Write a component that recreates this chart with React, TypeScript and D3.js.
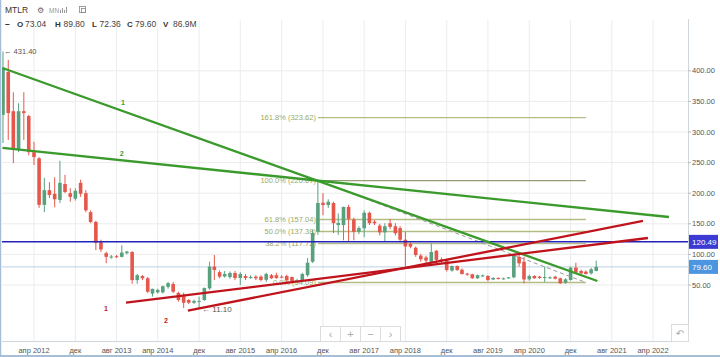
import React from "react";
import * as d3 from "d3";

// Monthly candles, Oct 2011 .. May 2021
const firstMonth = { year: 2011, month: 9 };
const opens = [
  328, 398, 334, 271, 334, 326, 267, 257, 181, 205,
  199, 189, 215, 200, 191, 217, 200, 169, 153, 120,
  102, 95.5, 97, 96, 102, 104, 58, 64.7, 61, 36,
  38, 38, 47, 51.6, 37, 32, 25.5, 21, 22.7, 25.5,
  44.5, 80, 71, 64, 63, 69.6, 61.4, 64.7, 62.5, 63.6,
  63.6, 58.5, 66, 66, 63.6, 64.7, 63, 55.4, 56, 66,
  88, 137, 184.5, 180.7, 184, 148, 148, 177.5, 157, 137,
  142.6, 168, 153.5, 147, 136, 151, 146, 143, 124, 117,
  111, 98, 95, 88, 106, 92, 92, 73.5, 81, 75,
  68.5, 67.5, 61, 65, 64.7, 59, 61.4, 60, 61, 62.6,
  96, 88, 59.3, 64.7, 63.6, 62, 61.5, 63.6, 61, 53.8,
  58.2, 78.4, 72.9, 71.7, 69.1, 73.04,
];
const highs = [
  431.4, 418, 365, 347, 365, 328, 284, 259, 225, 218,
  226, 253, 230, 208, 208, 222, 205, 172, 155, 124,
  104.5, 99, 99, 115, 106, 105, 68, 66, 63, 44,
  44, 49, 55, 55, 39, 37.5, 27, 26, 31, 46,
  88, 99, 74, 73, 72, 73, 71, 68, 66, 66,
  66, 70, 68, 70, 66, 67, 64, 60, 70, 94,
  140, 220.67, 200, 190, 186, 167, 178, 181, 160, 146,
  172, 170, 156, 150, 151, 158, 151, 146, 137, 120,
  113, 101, 98, 118, 107, 95, 93, 82, 82, 77,
  70, 68.5, 67, 67, 66, 63, 62.5, 62, 63, 101,
  99, 96, 67, 66, 65, 80, 64, 65, 62, 61,
  80, 86.4, 75, 74, 78, 89.8,
];
const lows = [
  282, 287, 249, 267, 287, 262, 246, 176, 169, 192,
  177, 184, 200, 186, 188, 194, 169, 151, 107, 104,
  85.5, 93, 94, 95, 100, 52, 52, 58, 37, 31,
  36, 36, 44, 37, 22.8, 12.5, 19, 19, 11.1, 24,
  42, 58, 61, 62, 60, 58, 50, 58, 60, 58,
  56, 55, 60, 60, 61, 55, 54.5, 53, 54, 63.6,
  86, 132, 164, 176, 135, 132, 123, 121, 123, 133,
  128, 148, 148, 131, 121, 141, 131, 120, 80, 110,
  96, 88, 85, 86, 86, 86, 72, 72, 73, 67,
  65, 60, 60, 63, 56, 58, 59, 59, 60, 61,
  80, 52.7, 57, 60, 60, 55, 60, 59, 52, 52,
  57, 69, 68, 67, 67, 72.36,
];
const closes = [
  405, 331, 274, 334, 331, 267, 259, 181, 205, 197,
  190, 217, 202, 194, 204, 199, 172, 153, 119, 108,
  96, 96.5, 95.5, 103, 104.5, 58, 66, 61, 39, 43.7,
  42, 48, 53, 39, 25.5, 21, 21, 24, 24, 45,
  80, 74.5, 63.6, 68, 69.6, 61.4, 68, 61.4, 63, 61,
  58.2, 68, 61, 61.5, 62, 58, 55.4, 57, 68, 86.4,
  135, 184, 180.7, 186, 151, 151.5, 177.5, 158, 137, 143,
  168, 151, 150.8, 136, 146, 145, 134.5, 124, 113, 112.6,
  99, 92, 90, 104, 91, 90, 74.5, 81, 74.5, 68,
  67, 61, 66, 65.8, 58.2, 61.5, 60, 60.8, 62.5, 97.4,
  85.4, 59, 64.7, 61, 61.5, 63, 62.5, 60.3, 52.7, 59.3,
  78.4, 70.2, 69.1, 68, 75.6, 79.6,
];

const xTickMonths = [
  [2012, 3], [2012, 11], [2013, 7], [2014, 3], [2014, 11], [2015, 7], [2016, 3], [2016, 11],
  [2017, 7], [2018, 3], [2018, 11], [2019, 7], [2020, 3], [2020, 11], [2021, 7], [2022, 3],
];
const xTickLabels = [
  "апр 2012", "дек", "авг 2013", "апр 2014", "дек", "авг 2015", "апр 2016", "дек",
  "авг 2017", "апр 2018", "дек", "авг 2019", "апр 2020", "дек", "авг 2021", "апр 2022",
];
const yTicks = [50, 100, 150, 200, 250, 300, 350, 400];

const fibRatios = ["161.8%", "100.0%", "61.8%", "50.0%", "38.2%", "0.0%"];
const fibValues = [323.62, 220.67, 157.04, 137.38, 117.72, 54.09];
const fibStart = "2016-11-01";
const fibEnd = "2021-03-01";

const greenLines = [
  { from: ["2011-09-28", 404.6], to: ["2021-05-08", 56.5] },
  { from: ["2011-09-28", 273.9], to: ["2022-07-04", 161.1] },
];
const redLines = [
  { from: ["2013-09-26", 21.1], to: ["2022-03-02", 126.8] },
  { from: ["2014-09-26", 8.0], to: ["2022-02-01", 154.6] },
];
const dashedLine = { from: ["2016-11-01", 220.67], to: ["2021-03-01", 54.09] };
const greenLabels = [
  { text: "1", at: ["2013-09-08", 347.4] },
  { text: "2", at: ["2013-09-01", 264] },
];
const redLabels = [
  { text: "1", at: ["2013-05-30", 10.8] },
  { text: "2", at: ["2014-05-20", -8.8] },
];

const ohlcLabels = ["O", "H", "L", "C", "V"];
const ohlcValues = ["73.04", "89.80", "72.36", "79.60", "86.9M"];

const levelLine = 120.49;
const lastPrice = 79.6;
const maxHigh = 431.4;
const minLow = 11.1;

const FONT = "'Liberation Sans', Arial, sans-serif";
const UP = "#58a07e";
const DOWN = "#e5574b";

const d = (s: string) => new Date(s + "T00:00:00Z");

export default function App() {
  const W = 720, H = 357;
  const plotL = 2, plotR = 688, plotT = 20, plotB = 341;
  const x = d3.scaleUtc().domain([d("2012-04-01"), d("2022-04-01")]).range([34, 653]);
  const y = d3.scaleLinear().domain([50, 400]).range([285, 70.8]);
  const months = opens.map((_, i) => new Date(Date.UTC(firstMonth.year, firstMonth.month + i, 1)));
  const bw = 3.6;
  const labelX = [17, 55, 92, 127, 163];
  const valueX = [24, 62.5, 98.5, 134, 172];

  const pt = (p: any) => [x(d(p[0])), y(p[1])];

  return (
    <svg width={W} height={H} style={{ position: "absolute", left: 0, top: 0, background: "#fff" }} fontFamily={FONT}>
      <defs>
        <clipPath id="plot">
          <rect x={plotL} y={plotT} width={plotR - plotL} height={plotB - plotT} />
        </clipPath>
      </defs>
      <rect x={0} y={0} width={W} height={H} fill="#fff" />
      {/* grid */}
      {xTickMonths.map((m, i) => {
        const xx = x(new Date(Date.UTC(m[0], m[1], 1)));
        return <line key={"gx" + i} x1={xx} x2={xx} y1={plotT} y2={plotB} stroke="#ececec" strokeWidth={1} />;
      })}
      {yTicks.map((v) => (
        <line key={"gy" + v} x1={plotL} x2={plotR} y1={y(v)} y2={y(v)} stroke="#ececec" strokeWidth={1} />
      ))}
      <g clipPath="url(#plot)">
        <line x1={plotL} x2={plotR} y1={y(lastPrice)} y2={y(lastPrice)} stroke="#bcd0e0" strokeWidth={1} />
        {fibValues.map((v, i) => (
          <line key={"fib" + i} x1={x(d(fibStart))} x2={x(d(fibEnd))} y1={y(v)} y2={y(v)}
            stroke={i === 1 ? "#949e76" : "#b1bd82"} strokeWidth={1.3} />
        ))}
        {fibValues.map((v, i) => (
          <text key={"fibt" + i} x={x(d(fibStart)) - 2} y={y(v)} dy="0.35em" textAnchor="end"
            fontSize={7.5} fill="#9caa5c">{`${fibRatios[i]} (${v.toFixed(2)})`}</text>
        ))}
        {months.map((m, i) => {
          const xx = x(m);
          const o = opens[i], c = closes[i];
          const col = c >= o ? UP : DOWN;
          const top = y(Math.max(o, c));
          const bh = Math.max(1, y(Math.min(o, c)) - top);
          return (
            <g key={"c" + i}>
              <line x1={xx} x2={xx} y1={y(highs[i])} y2={y(lows[i])} stroke={col} strokeWidth={1} />
              <rect x={xx - bw / 2} y={top} width={bw} height={bh} fill={col} />
            </g>
          );
        })}
        <line x1={pt(dashedLine.from)[0]} y1={pt(dashedLine.from)[1]} x2={pt(dashedLine.to)[0]} y2={pt(dashedLine.to)[1]}
          stroke="#9a9a9a" strokeWidth={1} strokeDasharray="4,3" />
        <line x1={plotL} x2={plotR} y1={y(levelLine)} y2={y(levelLine)} stroke="#2323b8" strokeWidth={1.5} />
        {greenLines.map((l, i) => (
          <line key={"gl" + i} x1={pt(l.from)[0]} y1={pt(l.from)[1]} x2={pt(l.to)[0]} y2={pt(l.to)[1]}
            stroke="#3a9a2c" strokeWidth={2.3} />
        ))}
        {redLines.map((l, i) => (
          <line key={"rl" + i} x1={pt(l.from)[0]} y1={pt(l.from)[1]} x2={pt(l.to)[0]} y2={pt(l.to)[1]}
            stroke="#c0141c" strokeWidth={2.3} />
        ))}
        {greenLabels.map((l, i) => (
          <text key={"glt" + i} x={pt(l.at)[0]} y={pt(l.at)[1]} dy="0.35em" textAnchor="middle" fontSize={7}
            fontWeight="bold" fill="#3a9a2c">{l.text}</text>
        ))}
        {redLabels.map((l, i) => (
          <text key={"rlt" + i} x={pt(l.at)[0]} y={pt(l.at)[1]} dy="0.35em" textAnchor="middle" fontSize={7}
            fontWeight="bold" fill="#c0141c">{l.text}</text>
        ))}
        <text x={x(months[0]) + 1} y={y(maxHigh)} dy="0.35em" fontSize={7.5} fill="#555">{`← ${maxHigh.toFixed(2)}`}</text>
        <text x={x(months[38]) + 3} y={y(minLow)} dy="0.35em" fontSize={8} fill="#555">{`← ${minLow.toFixed(2)}`}</text>
      </g>
      {/* axes */}
      <line x1={plotR + 0.5} x2={plotR + 0.5} y1={0} y2={plotB} stroke="#cfd6dc" strokeWidth={1} />
      <line x1={plotL} x2={plotR} y1={plotB + 0.5} y2={plotB + 0.5} stroke="#cfd6dc" strokeWidth={1} />
      {yTicks.map((v) => (
        <g key={"yt" + v}>
          <line x1={plotR} x2={plotR + 3} y1={y(v)} y2={y(v)} stroke="#bbb" />
          <text x={plotR + 4} y={y(v)} dy="0.35em" fontSize={7.5} fill="#555">{v.toFixed(2)}</text>
        </g>
      ))}
      {xTickMonths.map((m, i) => {
        const xx = x(new Date(Date.UTC(m[0], m[1], 1)));
        return (
          <text key={"xt" + i} x={xx} y={350} dy="0.35em" textAnchor="middle" fontSize={7.5} fill="#555">{xTickLabels[i]}</text>
        );
      })}
      <rect x={plotR + 1} y={y(levelLine) - 7} width={29} height={14} fill="#3b3bd4" />
      <text x={plotR + 4} y={y(levelLine)} dy="0.35em" fontSize={8} fill="#fff">{levelLine.toFixed(2)}</text>
      <rect x={plotR + 1} y={y(lastPrice) - 7} width={29} height={14} fill="#4c95e0" />
      <text x={plotR + 4} y={y(lastPrice)} dy="0.35em" fontSize={8} fill="#fff">{lastPrice.toFixed(2)}</text>
      {["‹", "+", "−", "›"].map((s, i) => (
        <g key={"nb" + i}>
          <rect x={320.5 + i * 20} y={326.5} width={20} height={15} fill="#fff" stroke="#dcdcdc" />
          <text x={330.5 + i * 20} y={334} dy="0.35em" textAnchor="middle" fontSize={11} fill="#aaa">{s}</text>
        </g>
      ))}
      <rect x={671.5} y={324.5} width={17} height={17} fill="#fff" stroke="#dcdcdc" />
      <text x={680} y={333} dy="0.35em" textAnchor="middle" fontSize={10} fill="#aaa" fontFamily="DejaVu Sans">↶</text>
      {/* header */}
      <rect x={0} y={0} width={W} height={19} fill="#fff" />
      <text x={5} y={13} fontSize={8.5} fill="#333">MTLR</text>
      <text x={37} y={13} fontSize={8} fill="#666" fontFamily="DejaVu Sans">⚙</text>
      <text x={49} y={13} fontSize={6.5} fill="#999">MN</text>
      {[0, 1, 2, 3].map((i) => (
        <rect key={"bi" + i} x={60 + i * 2} y={13 - [3, 5, 3, 6][i]} width={1} height={[3, 5, 3, 6][i]} fill="#999" />
      ))}
      <rect x={79.5} y={6.5} width={6} height={6} fill="none" stroke="#888" strokeWidth={0.8} />
      <rect x={81.5} y={8.5} width={4} height={4} fill="none" stroke="#888" strokeWidth={0.8} />
      <text x={5} y={27} fontSize={8.5} fontWeight="bold" fill="#333">–</text>
      {ohlcLabels.map((l, i) => (
        <g key={"oh" + i}>
          <text x={labelX[i]} y={27} fontSize={8} fontWeight="bold" fill="#333">{l}</text>
          <text x={valueX[i] + 1} y={27} fontSize={8.5} fill="#444">{ohlcValues[i]}</text>
        </g>
      ))}
      <line x1={0.5} x2={0.5} y1={0} y2={H} stroke="#a7bfd6" strokeWidth={1.5} />
      <line x1={0} x2={W} y1={H - 1} y2={H - 1} stroke="#a7bfd6" strokeWidth={2} />
    </svg>
  );
}
